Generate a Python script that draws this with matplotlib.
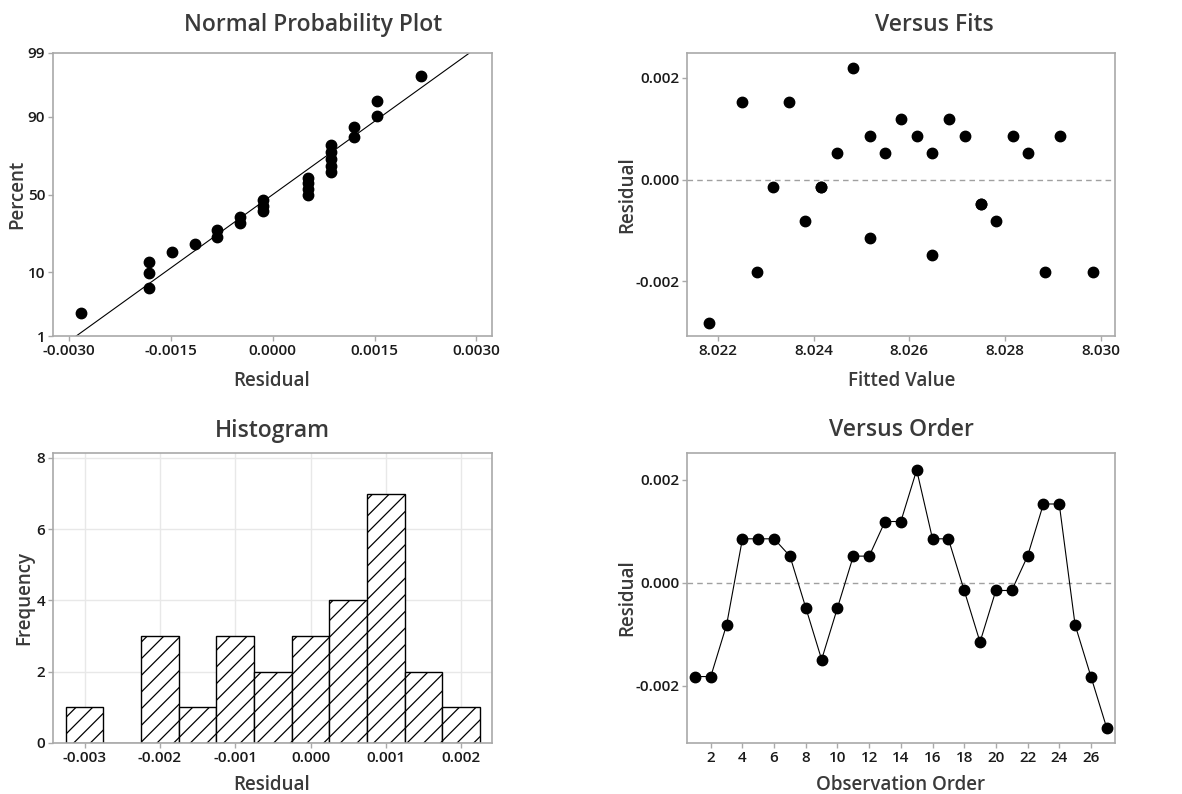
import numpy as np
import matplotlib
matplotlib.use('Agg')
import matplotlib.pyplot as plt
from matplotlib.ticker import FormatStrFormatter, NullLocator
from statistics import NormalDist

# residuals in observation order
residuals = [-0.00182, -0.00182, -0.000816, 0.000854, 0.000854, 0.000854, 0.000518,
             -0.000485, -0.00149, -0.000485, 0.000518, 0.000518, 0.00119, 0.00119,
             0.00219, 0.000854, 0.000854, -0.000149, -0.00115, -0.000149, -0.000149,
             0.000518, 0.00153, 0.00153, -0.000816, -0.00182, -0.00282]
# fitted values paired with the residuals above (read from Versus Fits)
fitted = [8.02282, 8.02883, 8.02382, 8.02517, 8.02616, 8.02716, 8.02448,
          8.02749, 8.02648, 8.02749, 8.02549, 8.02648, 8.02582, 8.02683,
          8.02482, 8.02817, 8.02916, 8.02315, 8.02517, 8.02416, 8.02416,
          8.02849, 8.02250, 8.02348, 8.02782, 8.02983, 8.02182]
order = list(range(1, len(residuals) + 1))

pct_ticks = [1, 10, 50, 90, 99]
npp_xticks = [-0.003, -0.0015, 0.0, 0.0015, 0.003]
fit_xticks = [8.022, 8.024, 8.026, 8.028, 8.030]
res_yticks = [-0.002, 0.0, 0.002]
hist_xticks = [-0.003, -0.002, -0.001, 0.0, 0.001, 0.002]
hist_yticks = [0, 2, 4, 6, 8]
order_xticks = list(range(2, 27, 2))

plt.rcParams['font.family'] = ['Open Sans', 'DejaVu Sans']

W, H = 1182, 794
TITLE_C = '#3a3a3a'
SPINE_C = '#a9a9a9'

fig = plt.figure(figsize=(W / 100, H / 100), dpi=100)


def px_axes(left, top, right, bottom):
    return fig.add_axes([left / W, 1 - bottom / H, (right - left) / W, (bottom - top) / H])


def style(ax):
    for s in ax.spines.values():
        s.set_color(SPINE_C)
        s.set_linewidth(1.2)
    ax.tick_params(direction='out', length=3.5, width=1, color=SPINE_C,
                   labelsize=11, labelcolor='#1a1a1a', pad=2)
    for lab in ax.get_xticklabels() + ax.get_yticklabels():
        lab.set_fontweight('semibold')


def label(x, y, text, size=13.5, rot=0, va='baseline'):
    fig.text(x / W, 1 - y / H, text, ha='center', va=va, rotation=rot,
             fontsize=size, fontweight='semibold', color=TITLE_C)


nd = NormalDist()


def to_z(p):
    p = np.clip(np.asarray(p, dtype=float), 1e-9, 100 - 1e-9)
    return np.vectorize(lambda v: nd.inv_cdf(v / 100), otypes=[float])(p)


def from_z(z):
    return np.vectorize(lambda v: nd.cdf(v) * 100, otypes=[float])(np.asarray(z, dtype=float))


res = np.array(residuals)
n = len(res)

# Normal probability plot
ax1 = px_axes(53, 53, 492, 336)
srt = np.sort(res)
pct = 100 * (np.arange(1, n + 1) - 0.3) / (n + 0.4)
mu, sd = res.mean(), res.std(ddof=1)
ax1.set_yscale('function', functions=(to_z, from_z))
line_p = np.array([1, 99])
ax1.plot(mu + sd * to_z(line_p), line_p, color='black', lw=0.8)
ax1.plot(srt, pct, 'o', color='black', ms=7.5)
ax1.set_ylim(1, 99)
ax1.set_xlim(-0.00324, 0.00323)
ax1.set_yticks(pct_ticks)
ax1.yaxis.set_minor_locator(NullLocator())
ax1.yaxis.set_major_formatter(FormatStrFormatter('%d'))
ax1.set_xticks(npp_xticks)
ax1.xaxis.set_major_formatter(FormatStrFormatter('%.4f'))
style(ax1)
label(313, 31, 'Normal Probability Plot', size=16.5)
label(272, 386, 'Residual')
label(17, 194, 'Percent', rot=90, va='center')

# Versus fits
ax2 = px_axes(687, 53, 1115, 336)
ax2.axhline(0, color='#a0a0a0', lw=1, ls=(0, (4, 3)))
ax2.plot(fitted, residuals, 'o', color='black', ms=7.5)
ax2.set_xlim(8.02135, 8.0303)
ax2.set_ylim(-0.00308, 0.00249)
ax2.set_xticks(fit_xticks)
ax2.set_yticks(res_yticks)
ax2.xaxis.set_major_formatter(FormatStrFormatter('%.3f'))
ax2.yaxis.set_major_formatter(FormatStrFormatter('%.3f'))
style(ax2)
label(934, 31, 'Versus Fits', size=16.5)
label(902, 386, 'Fitted Value')
label(627, 195, 'Residual', rot=90, va='center')

# Histogram
ax3 = px_axes(53, 453, 492, 743)
edges = np.arange(-0.00325, 0.0023, 0.0005)
plt.rcParams['hatch.linewidth'] = 0.9
ax3.hist(residuals, bins=edges, color='white', edgecolor='black', hatch='//', linewidth=1, zorder=2)
ax3.set_axisbelow(True)
ax3.grid(True, color='#e8e8e8', lw=1)
ax3.set_xlim(-0.00342, 0.00241)
ax3.set_ylim(0, 8.14)
ax3.set_xticks(hist_xticks)
ax3.set_yticks(hist_yticks)
ax3.xaxis.set_major_formatter(FormatStrFormatter('%.3f'))
style(ax3)
label(272, 437, 'Histogram', size=16.5)
label(272, 790, 'Residual')
label(24, 598, 'Frequency', rot=90, va='center')

# Versus order
ax4 = px_axes(687, 453, 1115, 743)
ax4.axhline(0, color='#a0a0a0', lw=1, ls=(0, (4, 3)))
ax4.plot(order, residuals, '-', color='black', lw=0.8)
ax4.plot(order, residuals, 'o', color='black', ms=7.5)
ax4.set_xlim(0.5, 27.52)
ax4.set_ylim(-0.00311, 0.00252)
ax4.set_xticks(order_xticks)
ax4.set_yticks(res_yticks)
ax4.yaxis.set_major_formatter(FormatStrFormatter('%.3f'))
style(ax4)
label(901, 436, 'Versus Order', size=16.5)
label(901, 790, 'Observation Order')
label(627, 598, 'Residual', rot=90, va='center')

fig.savefig('out.png', dpi=100)
